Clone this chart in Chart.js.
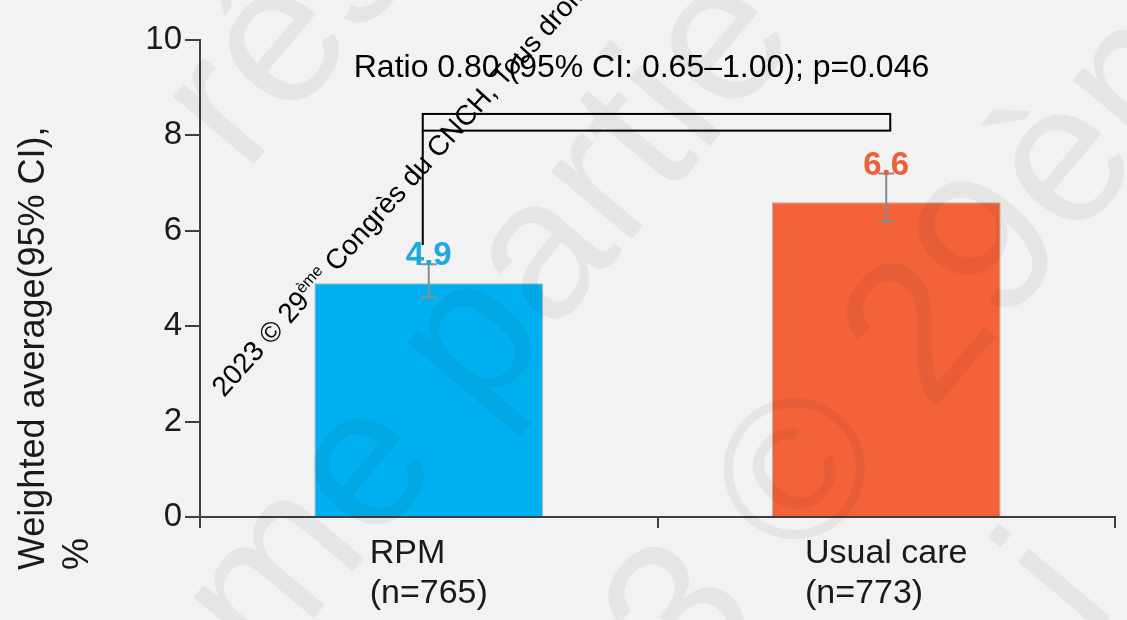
<!DOCTYPE html>
<html>
<head>
<meta charset="utf-8">
<script src="https://cdn.jsdelivr.net/npm/chart.js@4.4.0/dist/chart.umd.min.js"></script>
<style>
  html, body { margin: 0; padding: 0; background: #f2f2f2; }
  #wrap { width: 1127px; height: 620px; }
</style>
</head>
<body>
<div id="wrap"><canvas id="chart" width="1127" height="620"></canvas></div>
<script>
// data
const groups = ["RPM", "Usual care"];
const groupSizes = ["(n=765)", "(n=773)"];
const averages = [4.9, 6.6];
const ciLower = [4.6, 6.2];
const ciUpper = [5.3, 7.2];
const yTicks = [0, 2, 4, 6, 8, 10];
const ratioText = "Ratio 0.80 (95% CI: 0.65–1.00); p=0.046";
const bracketLow = 8.1;
const bracketHigh = 8.45;
const bracketLegEnd = 5.7;
const ratioTextLevel = 9.22;

const barColors = ["#00b0f0", "#f4623a"];
const labelColors = ["#1ea9e1", "#ea613c"];
const FONT = "'Liberation Sans', Arial, sans-serif";
const AXIS = "#404040";

const background = {
  id: "background",
  beforeDraw(chart) {
    const ctx = chart.ctx;
    ctx.save();
    ctx.fillStyle = "#f2f2f2";
    ctx.fillRect(0, 0, chart.width, chart.height);
    ctx.restore();
  }
};

// error bars + value labels
const errorBars = {
  id: "errorBars",
  afterDatasetsDraw(chart) {
    const ctx = chart.ctx;
    const x = chart.scales.x, y = chart.scales.y;
    ctx.save();
    averages.forEach((v, i) => {
      const cx = x.getPixelForValue(i);
      const top = y.getPixelForValue(ciUpper[i]);
      const bot = y.getPixelForValue(ciLower[i]);
      ctx.strokeStyle = "#8c8c8c";
      ctx.lineWidth = 2;
      ctx.beginPath();
      ctx.moveTo(cx, top); ctx.lineTo(cx, bot);
      ctx.moveTo(cx - 8, top); ctx.lineTo(cx + 8, top);
      ctx.moveTo(cx - 8, bot); ctx.lineTo(cx + 8, bot);
      ctx.stroke();

      ctx.fillStyle = labelColors[i];
      ctx.font = "bold 33px " + FONT;
      ctx.textAlign = "center";
      ctx.textBaseline = "alphabetic";
      ctx.fillText(v.toFixed(1), cx, top + 1);
    });
    ctx.restore();
  }
};

const annotations = {
  id: "annotations",
  afterDraw(chart) {
    const ctx = chart.ctx;
    const x = chart.scales.x, y = chart.scales.y;
    const c0 = x.getPixelForValue(0), c1 = x.getPixelForValue(1);
    ctx.save();

    // category labels: block centred, lines left aligned
    ctx.font = "34px " + FONT;
    ctx.fillStyle = "#1a1a1a";
    ctx.textAlign = "left";
    ctx.textBaseline = "alphabetic";
    groups.forEach((g, i) => {
      const cx = x.getPixelForValue(i);
      const w = Math.max(ctx.measureText(g).width, ctx.measureText(groupSizes[i]).width);
      ctx.fillText(g, cx - w / 2, y.bottom + 46);
      ctx.fillText(groupSizes[i], cx - w / 2, y.bottom + 86);
    });

    // y title, two lines
    ctx.save();
    ctx.font = "36px " + FONT;
    ctx.translate(44, 570);
    ctx.rotate(-Math.PI / 2);
    ctx.fillText("Weighted average(95% CI),", 0, 0);
    ctx.fillText("%", 0, 44);
    ctx.restore();

    // comparison bracket
    const x0 = c0 - 6, x1 = c1 + 4;
    const yl = y.getPixelForValue(bracketLow), yh = y.getPixelForValue(bracketHigh);
    ctx.strokeStyle = "#000";
    ctx.lineWidth = 2;
    ctx.strokeRect(x0, yh, x1 - x0, yl - yh);
    ctx.beginPath();
    ctx.moveTo(x0, yl);
    ctx.lineTo(x0, y.getPixelForValue(bracketLegEnd));
    ctx.stroke();

    ctx.font = "32px " + FONT;
    ctx.fillStyle = "#000";
    ctx.textAlign = "center";
    ctx.fillText(ratioText, (c0 + c1) / 2 - 16, y.getPixelForValue(ratioTextLevel));

    // faint slide watermark
    ctx.fillStyle = "rgba(0,0,0,0.05)";
    ctx.font = "200px " + FONT;
    ctx.textAlign = "left";
    [["réservés", 245, 175], ["ème partie", 194, 761], ["2023 © 29ème", 478, 953], ["i", 1090, 640]].forEach(([t, px, py]) => {
      ctx.save();
      ctx.translate(px, py);
      ctx.rotate(-50 * Math.PI / 180);
      ctx.fillText(t, 0, 0);
      ctx.restore();
    });

    // copyright line
    ctx.save();
    ctx.translate(224, 398);
    ctx.rotate(-48 * Math.PI / 180);
    ctx.fillStyle = "#000";
    ctx.font = "28px " + FONT;
    let pos = 0;
    const a = "2023 © 29";
    ctx.fillText(a, pos, 0);
    pos += ctx.measureText(a).width;
    ctx.font = "16px " + FONT;
    ctx.fillText("ème", pos, -11);
    pos += ctx.measureText("ème").width;
    ctx.font = "28px " + FONT;
    ctx.fillText(" Congrès du CNCH, Tous droits réservés", pos, 0);
    ctx.restore();

    ctx.restore();
  }
};

new Chart(document.getElementById("chart"), {
  type: "bar",
  data: {
    labels: groups,
    datasets: [{
      data: averages,
      backgroundColor: barColors,
      borderColor: "rgba(120,120,120,0.5)",
      borderWidth: 1,
      barPercentage: 0.5,
      categoryPercentage: 1
    }]
  },
  options: {
    responsive: false,
    animation: false,
    devicePixelRatio: 1,
    layout: { padding: { top: 40, right: 12, left: 0, bottom: 0 } },
    plugins: { legend: { display: false }, tooltip: { enabled: false } },
    scales: {
      x: {
        offset: true,
        grid: { offset: true, drawOnChartArea: false, drawTicks: true, tickLength: 11, color: AXIS, lineWidth: 2 },
        border: { display: true, color: AXIS, width: 2 },
        ticks: { display: false },
        afterFit: s => { s.height = 103; }
      },
      y: {
        min: 0,
        max: 10,
        afterBuildTicks: s => { s.ticks = yTicks.map(v => ({ value: v })); },
        grid: { drawOnChartArea: false, drawTicks: true, tickLength: 15, color: AXIS, lineWidth: 2 },
        border: { display: true, color: AXIS, width: 2 },
        ticks: { font: { family: FONT, size: 33 }, color: "#1a1a1a", padding: 3 },
        afterFit: s => { s.width = 200; }
      }
    }
  },
  plugins: [background, errorBars, annotations]
});
</script>
</body>
</html>
